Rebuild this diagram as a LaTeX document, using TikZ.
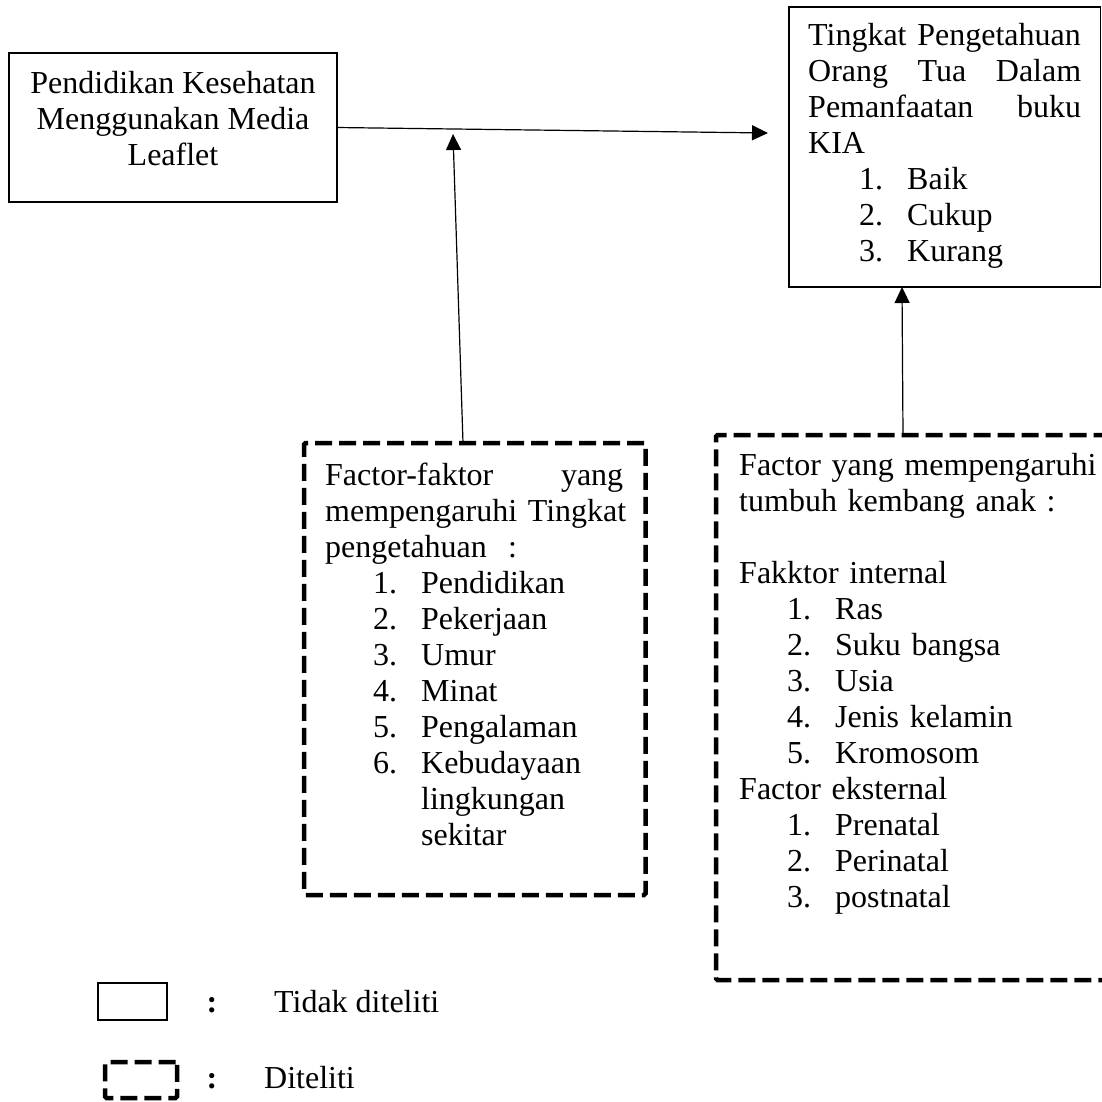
\documentclass[tikz,border=0pt]{standalone}
\usepackage{fontspec}
\setmainfont{Liberation Serif}
\usetikzlibrary{arrows.meta,positioning,calc}
\definecolor{ink}{HTML}{000000}
\newcommand{\itm}[3][48pt]{\hspace*{#1}\makebox[48pt][l]{#2.}#3}

\begin{document}
\begin{tikzpicture}[x=1pt,y=-1pt,
  plain/.style={draw=ink, line width=1.2pt, inner sep=0pt, outer sep=0pt, anchor=north west},
  dashbox/.style={draw=ink, line width=4.5pt, dash pattern=on 17pt off 7pt, rounded corners=1.5pt,
                  inner sep=0pt, outer sep=0pt, anchor=north west},
  txt/.style={font=\fontsize{32}{36}\selectfont, text=ink, inner sep=0pt},
  link/.style={-{Triangle[length=16pt,width=15pt]}, ink, line width=1.2pt}]

\useasboundingbox (0,0) rectangle (1102,1101);

% boxes
\node[plain, minimum width=328pt, minimum height=149pt] (leaflet) at (9,53) {};
\node[plain, minimum width=311.5pt, minimum height=280pt] (kia) at (789,7) {};
\node[dashbox, minimum width=341.5pt, minimum height=452pt] (faktor) at (304,443) {};
\node[dashbox, minimum width=396pt, minimum height=545pt] (tumbuh) at (716,435) {};

% texts
\node[txt, anchor=north, align=center] (leaflet-t) at ($(leaflet.north)+(0,18)$)
  {Pendidikan Kesehatan\\Menggunakan Media\\Leaflet};
\node[txt, anchor=north west, text width=273pt, align=left] (kia-t) at ($(kia.north west)+(19,16)$)
  {Tingkat Pengetahuan\\Orang\hfill Tua\hfill Dalam\\Pemanfaatan\hfill buku\\KIA\\
   \itm[51pt]{1}{Baik}\\\itm[51pt]{2}{Cukup}\\\itm[51pt]{3}{Kurang}};
\node[txt, anchor=north west, text width=298pt, align=left] (faktor-t) at ($(faktor.north west)+(21,20)$)
  {Factor-faktor\hfill yang\\\mbox{mempengaruhi Tingkat}\\pengetahuan \ :\\
   \itm{1}{Pendidikan}\\\itm{2}{Pekerjaan}\\\itm{3}{Umur}\\\itm{4}{Minat}\\
   \itm{5}{Pengalaman}\\\itm{6}{Kebudayaan}\\\hspace*{96pt}lingkungan\\\hspace*{96pt}sekitar};
\node[txt, anchor=north west, text width=380pt, align=left] (tumbuh-t) at ($(tumbuh.north west)+(23,18)$)
  {Factor yang mempengaruhi\\tumbuh kembang anak :\\[36pt]
   Fakktor internal\\\itm{1}{Ras}\\\itm{2}{Suku bangsa}\\\itm{3}{Usia}\\
   \itm{4}{Jenis kelamin}\\\itm{5}{Kromosom}\\
   Factor eksternal\\\itm{1}{Prenatal}\\\itm{2}{Perinatal}\\\itm{3}{postnatal}};

% connectors
\coordinate (tipab) at (768,133);
\coordinate (tipc) at (453,134);
\draw[link] (leaflet.east) -- (tipab);
\draw[link] ($(faktor.north west)+(159,0)$) -- (tipc);
\draw[link] ($(tumbuh.north west)+(187,0)$) -- ($(kia.south west)+(113,0)$);

% legend
\node[plain, minimum width=69pt, minimum height=37pt] (key-plain) at (98,983) {};
\node[dashbox, minimum width=72pt, minimum height=36pt] (key-dash) at (105,1062) {};
\node[txt, anchor=base, font=\fontsize{32}{36}\selectfont\bfseries] (colon-plain) at (212,1012) {:};
\node[txt, anchor=base west] (lbl-plain) at (274,1012) {Tidak diteliti};
\node[txt, anchor=base, font=\fontsize{32}{36}\selectfont\bfseries] (colon-dash) at (212,1088) {:};
\node[txt, anchor=base west] (lbl-dash) at (264,1088) {Diteliti};

\end{tikzpicture}
\end{document}
